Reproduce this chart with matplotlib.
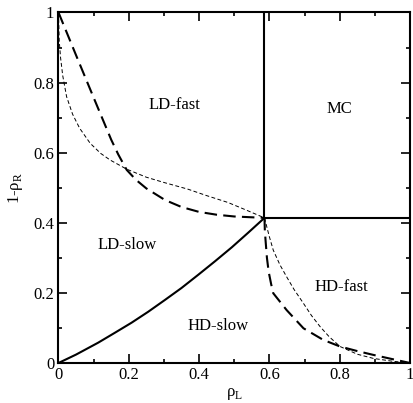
import matplotlib
matplotlib.use('Agg')
import matplotlib.pyplot as plt
import numpy as np

plt.rcParams['font.family'] = ['Liberation Serif', 'DejaVu Serif']
plt.rcParams['mathtext.fontset'] = 'custom'
plt.rcParams['mathtext.rm'] = 'Liberation Serif'

# triple point
xc, yc = 0.586, 0.414

# solid boundary LD-slow / HD-slow
solid_x = [0.0, 0.05, 0.113, 0.16, 0.208, 0.255, 0.303, 0.35, 0.398, 0.445, 0.493, 0.54, 0.586]
solid_y = [0.0, 0.024, 0.058, 0.086, 0.115, 0.146, 0.180, 0.214, 0.252, 0.290, 0.330, 0.372, 0.414]

# thick dashed, upper-left
thick_up_x = [0.0, 0.05, 0.10, 0.15, 0.17, 0.194, 0.22, 0.25, 0.303, 0.35, 0.40, 0.45, 0.50, 0.586]
thick_up_y = [1.0, 0.878, 0.757, 0.637, 0.595, 0.551, 0.523, 0.498, 0.465, 0.445, 0.431, 0.423, 0.418, 0.414]

# thin dashed, upper-left
thin_up_x = [0.0, 0.002, 0.006, 0.012, 0.023, 0.04, 0.06, 0.09, 0.12, 0.147, 0.194,
             0.25, 0.30, 0.368, 0.42, 0.482, 0.53, 0.586]
thin_up_y = [1.0, 0.92, 0.87, 0.82, 0.76, 0.71, 0.67, 0.627, 0.598, 0.579, 0.553,
             0.530, 0.515, 0.496, 0.478, 0.458, 0.438, 0.414]

# thick dashed, lower-right
thick_lo_x = [0.586, 0.587, 0.589, 0.593, 0.598, 0.605, 0.611, 0.649, 0.697, 0.753,
              0.801, 0.85, 0.896, 0.95, 1.0]
thick_lo_y = [0.414, 0.38, 0.351, 0.30, 0.26, 0.225, 0.199, 0.151, 0.099, 0.066,
              0.047, 0.034, 0.023, 0.011, 0.0]

# thin dashed, lower-right
thin_lo_x = [0.586, 0.60, 0.611, 0.63, 0.649, 0.67, 0.697, 0.72, 0.744, 0.77, 0.801,
             0.85, 0.896, 0.95, 1.0]
thin_lo_y = [0.414, 0.36, 0.322, 0.28, 0.246, 0.21, 0.170, 0.135, 0.104, 0.075, 0.047,
             0.025, 0.013, 0.005, 0.0]

phases = ['LD-fast', 'MC', 'LD-slow', 'HD-slow', 'HD-fast']
phase_x = [0.33, 0.80, 0.194, 0.455, 0.806]
phase_y = [0.736, 0.724, 0.337, 0.106, 0.218]

fig = plt.figure(figsize=(4.14, 4.03), dpi=100, facecolor='white')
ax = fig.add_axes([0.1413, 0.0993, 0.849, 0.8697])

ax.plot(solid_x, solid_y, 'k-', lw=1.5)
ax.plot([xc, xc], [yc, 1], 'k-', lw=1.5)
ax.plot([xc, 1], [yc, yc], 'k-', lw=1.5)
ax.plot(thick_up_x, thick_up_y, 'k', lw=1.5, dashes=(6, 3))
ax.plot(thick_lo_x, thick_lo_y, 'k', lw=1.5, dashes=(6, 3))
ax.plot(thin_up_x, thin_up_y, 'k', lw=0.7, dashes=(4, 2.5))
ax.plot(thin_lo_x, thin_lo_y, 'k', lw=0.7, dashes=(4, 2.5))

for name, px, py in zip(phases, phase_x, phase_y):
    ax.text(px, py, name, ha='center', va='center', fontsize=12)

ax.set_xlim(0, 1)
ax.set_ylim(0, 1)
ticks = [0, 0.2, 0.4, 0.6, 0.8, 1]
labels = ['0', '0.2', '0.4', '0.6', '0.8', '1']
ax.set_xticks(ticks)
ax.set_xticklabels(labels)
ax.set_yticks(ticks)
ax.set_yticklabels(labels)
ax.set_xticks(np.arange(0.1, 1, 0.2), minor=True)
ax.set_yticks(np.arange(0.1, 1, 0.2), minor=True)
ax.tick_params(which='both', direction='in', top=True, right=True, width=1.2, labelsize=12, pad=3)
ax.tick_params(which='major', length=6.5)
ax.tick_params(which='minor', length=3.2)
for s in ax.spines.values():
    s.set_linewidth(1.5)

ax.set_xlabel('ρ$_\\mathrm{L}$', fontsize=12, labelpad=2)
ax.set_ylabel('1-ρ$_\\mathrm{R}$', fontsize=12, labelpad=6)

fig.savefig('out.png', dpi=100)
